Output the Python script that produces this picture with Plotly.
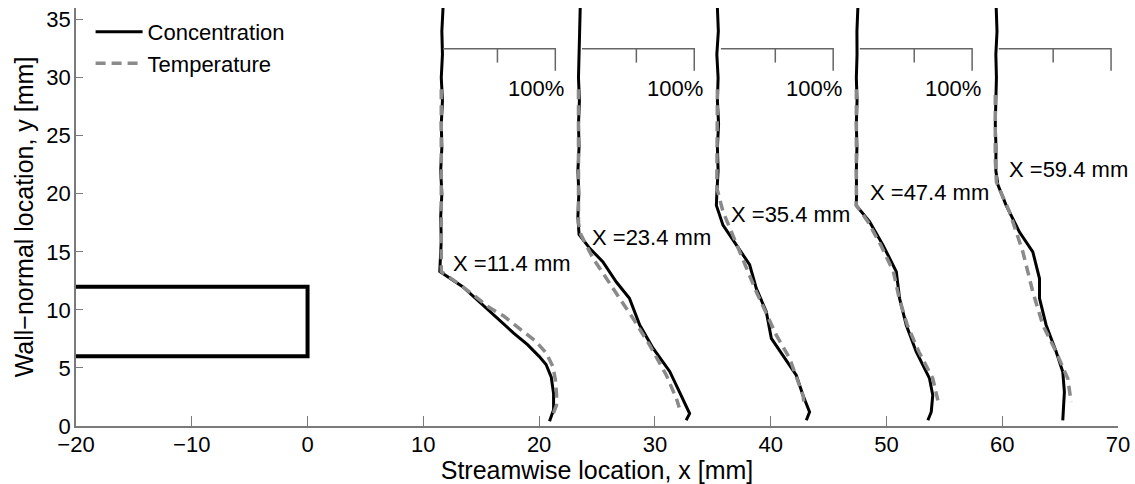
import plotly.graph_objects as go

# ---------------- data ----------------
stations = [11.4, 23.4, 35.4, 47.4, 59.4]          # streamwise station X [mm]
station_labels = ["X =11.4 mm", "X =23.4 mm", "X =35.4 mm", "X =47.4 mm", "X =59.4 mm"]
pct_to_mm = 10.0 / 100.0                              # 100 % drawn as 10 mm

# concentration profiles: wall-normal y [mm] and value [%]
conc_y = [
    [36, 34, 32, 30, 28, 26, 24, 22, 20, 18, 16, 14.5, 13.3, 12.0, 11.0, 10.0, 9.0, 8.0, 7.0, 6.0, 5.3, 4.2, 2.8, 1.4, 0.4],
    [36, 34, 32, 30, 28, 26, 24, 22, 20, 18, 16.5, 15.3, 14.15, 12.4, 11.0, 8.7, 6.7, 4.7, 2.9, 1.07, 0.5],
    [36, 34, 32, 30, 28, 26, 24, 22, 20, 19.0, 17.3, 15.6, 13.9, 11.85, 9.84, 7.54, 6.1, 4.37, 2.65, 1.21, 0.49],
    [36, 34, 32, 30, 28, 26, 24, 22, 20, 19.0, 17.6, 15.6, 13.3, 11.0, 8.7, 6.4, 4.1, 2.65, 1.21, 0.49],
    [36, 34, 32, 30, 28, 26, 24, 22, 20.8, 19.0, 16.7, 15.0, 12.7, 11.0, 8.7, 6.4, 4.66, 2.93, 0.49],
]
conc_pct = [
    [3, 2, 2.5, 1.5, 2.5, 1.5, 2, 1, 2, 1, 1.5, 0.5, 0.2, 20, 31, 42, 53, 64, 76, 86, 92, 96.5, 98.5, 98.5, 95],
    [1.5, 1, 0.5, 0, 0.8, 0, 0.5, -0.5, 0.3, -0.5, 0.5, 9.7, 21, 32.7, 44, 52.9, 64.4, 78.8, 87.4, 96, 93],
    [0, 0.8, -0.5, 0.6, 0, 1, 0, 0.6, -0.5, -0.9, 4.8, 16.3, 27.8, 33.6, 42.2, 46.6, 56.6, 68.1, 73.9, 79.6, 76.8],
    [1.3, 0.5, 0.6, 0, 0.6, 0, 0.5, 0, 0.2, -0.1, 11.4, 22.9, 34.5, 37.3, 43.1, 51.7, 63.2, 66, 64.7, 61.8],
    [0.8, 1.5, 0.5, 1, 0.5, 0, 0.6, 0.5, 2.2, 9.4, 20.9, 32.4, 38.2, 38.2, 43.9, 52.6, 58.3, 59.7, 58.3],
]

# temperature profiles: wall-normal y [mm] and value [%]
temp_y = [
    [29, 26, 23, 20, 17, 14.5, 13.3, 12.0, 11.0, 10.2, 9.5, 8.5, 7.3, 6.3, 5.1, 4.0, 2.8, 1.8, 1.0],
    [29, 26, 23, 20, 17.5, 16.5, 15.5, 14.44, 11.85, 9.27, 6.96, 4.37, 2.36, 1.6],
    [29, 26, 23, 20.5, 18.47, 15.01, 11.56, 7.83, 5.82, 2.65, 1.8],
    [29, 26, 23, 20, 19, 17.6, 15.6, 13.3, 11.0, 8.7, 6.4, 4.1, 2.2],
    [28.5, 26, 23, 21, 18.47, 15.01, 11.56, 8.69, 6.38, 4.09, 2.07],
]
temp_pct = [
    [1.5, 1.5, 1.5, 1.5, 1.2, 0.8, 1.5, 20, 33, 43, 55, 68, 83, 92, 98, 100, 101, 101, 98],
    [0, 0, 0, -0.5, 0, 2, 7, 12.6, 29.9, 47.1, 61.5, 75.9, 84.6, 87],
    [0, 0, 0, -0.5, 4.8, 19.6, 33.6, 50.9, 62.4, 73.9, 75],
    [0, 0, 0, 0, 0, 10, 21, 32, 37, 44, 54, 66, 70.4],
    [0, 0, 0, 1, 12.2, 23.8, 32.4, 41.1, 52.6, 62.6, 65.5],
]

# injector / plate geometry [mm]
body_x = [-20, 0, 0, -20]
body_y = [12, 12, 6, 6]

# scale bar (in %) and its height
scale_pct = [3, 50, 100]
scale_y = 32.5

# ---------------- styles / placement ----------------
FONT = "Liberation Sans, Arial, sans-serif"
AX = "#7a7a7a"
label_dy = [14.0, 16.2, 18.2, 20.1, 22.1]

fig = go.Figure()

fig.add_trace(go.Scatter(x=body_x, y=body_y, mode="lines",
                         line=dict(color="black", width=4), showlegend=False,
                         hoverinfo="skip"))

for i, X in enumerate(stations):
    fig.add_trace(go.Scatter(
        x=[X + p * pct_to_mm for p in conc_pct[i]], y=conc_y[i], mode="lines",
        line=dict(color="black", width=3), name="Concentration",
        showlegend=(i == 0)))

for i, X in enumerate(stations):
    fig.add_trace(go.Scatter(
        x=[X + p * pct_to_mm for p in temp_pct[i]], y=temp_y[i], mode="lines",
        line=dict(color="#8a8a8a", width=3.5, dash="10px,6px"), name="Temperature",
        showlegend=(i == 0)))

# scale bars
for i, X in enumerate(stations):
    x0, xm, x1 = [X + p * pct_to_mm for p in scale_pct]
    fig.add_trace(go.Scatter(
        x=[x0, x1, x1, None, xm, xm],
        y=[scale_y, scale_y, scale_y - 1.9, None, scale_y, scale_y - 1.2],
        mode="lines", line=dict(color="#666666", width=1.5),
        showlegend=False, hoverinfo="skip"))
    fig.add_annotation(x=x1 + 0.9, y=29.05, text="100%", showarrow=False,
                       xanchor="right", yanchor="middle",
                       font=dict(family=FONT, size=22, color="black"))
    fig.add_annotation(x=X + 1.0, y=label_dy[i], text=station_labels[i],
                       showarrow=False, xanchor="left", yanchor="middle",
                       font=dict(family=FONT, size=22, color="black"))

fig.update_layout(
    width=1135, height=484,
    margin=dict(l=76, r=17, t=8, b=58, autoexpand=False),
    paper_bgcolor="white", plot_bgcolor="white",
    font=dict(family=FONT, size=22, color="black"),
    legend=dict(x=0.014, y=0.993, xanchor="left", yanchor="top",
                bgcolor="rgba(0,0,0,0)", borderwidth=0,
                font=dict(family=FONT, size=22), tracegroupgap=0,
                itemwidth=47),
    xaxis=dict(range=[-20, 70], tickvals=[-20, -10, 0, 10, 20, 30, 40, 50, 60, 70],
               automargin=False,
               showgrid=False, zeroline=False, showline=True, linecolor=AX,
               linewidth=1.5, ticks="inside", ticklen=10, tickcolor=AX,
               tickwidth=1.2, tickfont=dict(family=FONT, size=22),
               ticklabelstandoff=-2,
               title=dict(text="Streamwise location, x [mm]",
                          font=dict(family=FONT, size=25), standoff=0)),
    yaxis=dict(range=[0, 36], tickvals=[0, 5, 10, 15, 20, 25, 30, 35],
               automargin=False,
               showgrid=False, zeroline=False, showline=True, linecolor=AX,
               linewidth=1.5, ticks="inside", ticklen=7, tickcolor=AX,
               tickwidth=1.2, tickfont=dict(family=FONT, size=22),
               ticklabelstandoff=-1,
               title=dict(text="Wall\u2212normal location, y [mm]",
                          font=dict(family=FONT, size=25), standoff=6)),
)

# remove the browser's default 8px page margin so the figure sits at (0, 0)
fig.write_html("out.html", config={"displayModeBar": False},
               post_script="document.body.style.margin='0';document.body.style.overflow='hidden';")
